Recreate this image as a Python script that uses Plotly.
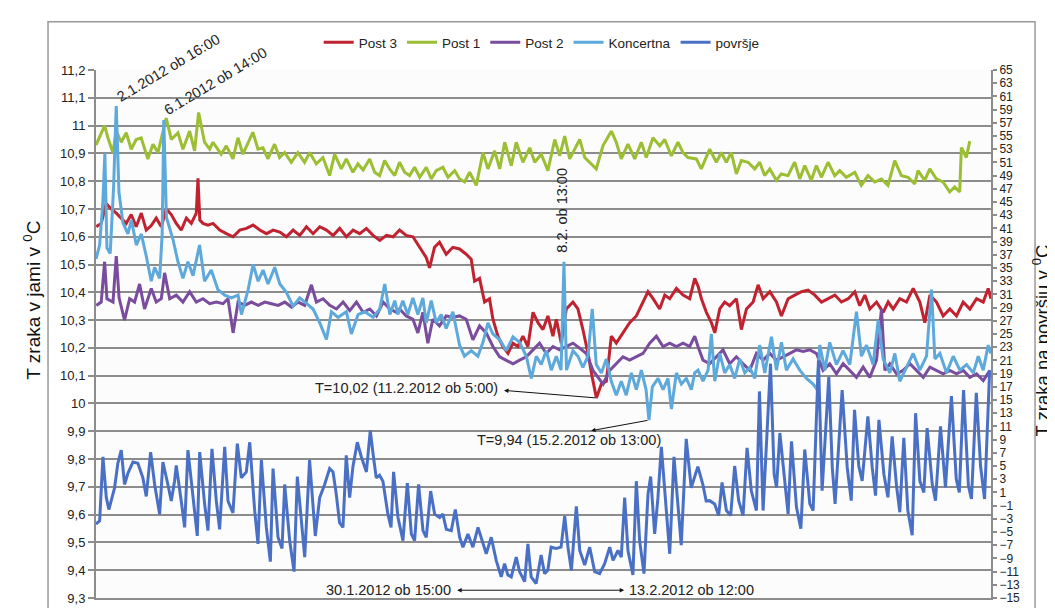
import pandas as pd
import plotly.graph_objects as go

START = pd.Timestamp("2012-01-01 00:00")

# ---------------- data (day offsets from 1.1.2012 00:00, temperatures) ----------------
post3_day = [0.02,0.43,0.84,1.25,1.67,2.08,2.49,2.9,3.31,3.73,4.14,4.55,4.96,5.38,5.79,6.2,6.61,7.02,7.44,7.85,
             8.26,8.4,8.55,8.81,9.22,9.64,10.19,10.74,11.29,11.84,12.39,12.94,13.49,14.04,14.59,15.14,15.68,16.23,
             16.78,17.33,17.88,18.43,18.98,19.53,20.07,20.62,21.17,21.72,22.27,22.82,23.37,23.92,24.47,25.0,25.55,
             26.1,26.65,27.2,27.47,27.88,28.29,28.84,29.39,29.94,30.49,30.9,31.18,31.59,32.0,32.41,32.69,33.1,33.51,
             33.93,34.34,34.75,35.16,35.57,35.99,36.4,36.81,37.22,37.63,37.91,38.32,38.73,39.28,39.69,40.1,40.52,
             40.87,41.21,41.62,42.03,42.44,42.85,43.4,43.95,44.5,45.05,45.46,45.88,46.42,46.84,47.25,47.8,48.35,
             48.9,49.31,49.6,49.86,50.27,50.68,50.96,51.37,51.78,52.19,52.74,53.15,53.57,54.12,54.53,54.94,55.49,
             56.04,56.45,57.0,57.55,58.1,58.65,59.2,59.75,60.3,60.85,61.39,61.95,62.49,62.9,63.32,63.73,64.28,
             64.83,65.24,65.65,66.2,66.75,67.3,67.85,68.26,68.68,69.22,69.77,70.32,70.87,71.42,71.97,72.52,73.07,
             73.48,73.7]
post3_t = [10.636,10.648,10.72,10.70,10.685,10.667,10.648,10.68,10.636,10.685,10.624,10.64,10.667,10.636,10.70,
           10.68,10.648,10.624,10.667,10.648,10.685,10.81,10.66,10.648,10.642,10.648,10.624,10.611,10.60,10.624,
           10.63,10.642,10.624,10.611,10.624,10.617,10.60,10.624,10.605,10.636,10.611,10.636,10.624,10.605,10.63,
           10.60,10.624,10.611,10.63,10.605,10.587,10.605,10.60,10.624,10.605,10.60,10.562,10.525,10.488,10.562,
           10.58,10.537,10.562,10.556,10.537,10.519,10.44,10.45,10.365,10.377,10.303,10.242,10.205,10.18,10.217,
           10.205,10.242,10.205,10.328,10.291,10.266,10.315,10.242,10.303,10.217,10.34,10.365,10.34,10.266,10.18,
           10.094,10.02,10.07,10.08,10.242,10.217,10.254,10.291,10.315,10.365,10.402,10.377,10.34,10.39,10.377,
           10.414,10.39,10.377,10.45,10.42,10.377,10.328,10.291,10.254,10.34,10.365,10.352,10.377,10.266,10.34,
           10.365,10.427,10.377,10.402,10.365,10.315,10.377,10.39,10.402,10.408,10.39,10.365,10.377,10.39,10.365,
           10.377,10.402,10.352,10.39,10.34,10.365,10.328,10.365,10.34,10.377,10.365,10.414,10.365,10.291,10.39,
           10.365,10.315,10.34,10.315,10.365,10.34,10.377,10.365,10.414,10.377]

post1_day = [0.0,0.71,0.98,1.39,1.67,2.08,2.49,2.9,3.31,3.72,4.27,4.69,5.1,5.78,6.2,6.75,7.16,7.71,8.12,8.45,8.94,
             9.36,9.63,10.31,10.73,11.28,11.69,12.1,12.92,13.34,13.75,14.16,14.71,15.12,15.54,16.08,16.63,17.18,
             17.6,18.14,18.69,19.24,19.65,20.2,20.61,21.16,21.57,22.0,22.54,22.95,23.36,23.77,24.18,24.6,25.0,
             25.42,25.83,26.24,26.66,27.2,27.61,28.02,28.57,28.99,29.54,29.95,30.36,30.77,31.32,31.87,32.28,32.83,
             33.25,33.66,34.2,34.61,35.16,35.72,36.13,36.67,37.22,37.78,38.19,38.6,39.01,39.84,40.25,41.2,41.75,
             42.44,42.85,43.26,43.81,44.37,44.91,45.32,45.87,46.43,46.84,47.38,47.93,48.34,48.76,49.44,49.85,
             50.54,51.09,51.5,51.91,52.32,52.74,53.15,53.7,54.25,54.66,55.07,55.49,56.03,56.44,56.99,57.54,57.96,
             58.37,58.91,59.33,59.74,60.29,60.84,61.25,61.8,62.49,63.03,63.58,64.14,64.68,65.23,65.78,66.33,
             66.88,67.43,67.7,68.25,68.67,69.21,69.76,70.31,70.72,71.13,71.27,71.68,71.96]
post1_t = [10.93,11.0,10.956,10.903,10.98,10.94,10.974,10.915,10.95,10.956,10.88,10.933,10.903,11.027,10.95,
           10.974,10.915,10.98,10.909,11.047,10.94,10.915,10.94,10.897,10.927,10.88,10.956,10.897,10.976,10.915,
           10.92,10.88,10.933,10.885,10.903,10.868,10.903,10.868,10.903,10.862,10.885,10.82,10.897,10.844,10.88,
           10.832,10.862,10.84,10.88,10.832,10.82,10.874,10.844,10.82,10.868,10.832,10.82,10.85,10.814,10.85,
           10.808,10.838,10.85,10.814,10.838,10.808,10.797,10.832,10.785,10.903,10.844,10.909,10.844,10.94,
           10.856,10.94,10.868,10.92,10.868,10.897,10.838,10.95,10.891,10.962,10.88,10.95,10.885,10.844,10.927,
           10.98,10.94,10.88,10.933,10.88,10.94,10.885,10.956,10.927,10.95,10.891,10.94,10.903,10.885,10.88,
           10.844,10.915,10.868,10.903,10.868,10.903,10.826,10.874,10.868,10.844,10.868,10.82,10.844,10.803,
           10.826,10.82,10.868,10.808,10.856,10.803,10.856,10.814,10.868,10.82,10.838,10.814,10.832,10.785,
           10.82,10.797,10.808,10.785,10.874,10.82,10.814,10.79,10.838,10.803,10.844,10.808,10.797,10.761,
           10.779,10.761,10.921,10.885,10.944]

post2_day = [0.02,0.43,0.71,0.9,1.4,1.67,1.9,2.35,2.77,3.18,3.59,4.0,4.55,4.96,5.38,5.65,6.07,6.61,7.16,7.71,
             8.26,8.81,9.36,9.91,10.46,10.87,11.29,11.7,12.25,12.8,13.35,13.9,14.45,15.0,15.55,16.1,16.64,17.19,
             17.74,18.15,18.7,19.25,19.8,20.35,20.9,21.45,22.0,22.55,23.1,23.65,24.2,24.75,25.0,25.55,26.1,26.51,
             26.92,27.33,27.74,28.29,28.84,29.39,29.94,30.49,31.04,31.59,32.14,32.69,33.24,33.79,34.34,34.89,
             35.44,35.99,36.53,37.08,37.63,38.18,38.73,39.28,39.83,40.38,40.93,41.35,41.76,42.31,42.85,43.4,43.95,
             44.5,45.05,45.6,46.15,46.7,47.25,47.8,48.35,48.9,49.31,49.58,49.99,50.54,51.09,51.64,52.19,52.74,
             53.29,53.84,54.39,54.94,55.49,56.04,56.59,57.14,57.69,58.24,58.79,59.34,59.88,60.43,60.98,61.53,
             62.08,62.63,63.18,63.73,64.28,64.69,64.97,65.38,65.93,66.48,67.03,67.58,68.13,68.68,69.22,69.77,
             70.32,70.87,71.42,71.97,72.52,73.07,73.62]
post2_t = [10.353,10.365,10.51,10.377,10.365,10.53,10.38,10.30,10.377,10.365,10.43,10.34,10.414,10.365,10.377,
           10.47,10.377,10.39,10.365,10.402,10.365,10.377,10.359,10.365,10.359,10.377,10.254,10.365,10.353,
           10.365,10.353,10.365,10.359,10.353,10.365,10.347,10.365,10.353,10.427,10.365,10.377,10.353,10.34,
           10.365,10.334,10.365,10.328,10.34,10.315,10.365,10.34,10.328,10.34,10.315,10.303,10.254,10.328,10.217,
           10.303,10.279,10.315,10.31,10.315,10.303,10.229,10.279,10.254,10.205,10.168,10.156,10.143,10.156,
           10.168,10.193,10.217,10.18,10.205,10.193,10.205,10.217,10.199,10.18,10.119,10.094,10.07,10.119,10.143,
           10.168,10.156,10.168,10.18,10.217,10.242,10.205,10.217,10.205,10.217,10.205,10.242,10.205,10.156,
           10.143,10.168,10.193,10.143,10.168,10.143,10.119,10.18,10.156,10.18,10.156,10.168,10.18,10.193,
           10.187,10.193,10.18,10.119,10.143,10.107,10.143,10.119,10.094,10.131,10.094,10.156,10.34,10.119,
           10.143,10.107,10.119,10.143,10.119,10.094,10.131,10.119,10.107,10.119,10.107,10.119,10.094,10.107,
           10.082,10.119]

konc_day = [0.0,0.3,0.57,0.73,0.9,1.17,1.45,1.667,1.89,2.22,2.63,2.91,3.32,3.73,4.14,4.55,4.83,5.24,5.45,5.583,
            5.8,6.34,6.75,7.16,7.57,7.99,8.53,8.94,9.49,10.04,10.6,11.15,11.7,11.98,12.53,12.94,13.35,13.76,14.17,
            14.72,15.14,15.68,16.23,16.78,17.33,17.88,18.43,18.98,19.39,19.94,20.62,21.03,21.58,22.13,22.82,23.37,
            23.78,24.2,24.61,24.86,25.27,25.68,26.1,26.51,26.92,27.2,27.61,28.02,28.43,28.84,29.39,29.94,30.35,
            30.9,31.45,31.87,32.28,32.69,33.24,33.79,34.34,34.89,35.44,35.85,36.26,36.67,37.08,37.5,37.91,38.3,
            38.54,38.75,39.28,39.69,40.1,40.52,40.87,41.2,41.62,42.03,42.44,42.85,43.26,43.67,44.09,44.5,44.91,
            45.3,45.54,45.82,46.29,46.7,47.11,47.39,47.8,48.21,48.62,49.03,49.31,49.58,49.99,50.41,50.68,50.96,
            51.37,51.78,52.19,52.6,53.02,53.43,53.84,54.25,54.66,55.08,55.63,56.04,56.45,56.86,57.41,57.96,58.51,
            59.06,59.39,59.61,60.02,60.43,60.98,61.53,62.08,62.63,63.04,63.46,64.0,64.42,64.83,65.38,65.79,66.2,
            66.75,67.3,67.85,68.4,68.81,69.09,69.5,70.05,70.6,71.15,71.7,72.25,72.66,73.07,73.48,73.7]
konc_t = [10.52,10.57,10.73,10.90,10.56,10.54,10.78,11.07,10.76,10.65,10.61,10.66,10.57,10.61,10.53,10.44,10.49,
          10.45,10.61,11.02,10.67,10.59,10.51,10.45,10.51,10.46,10.57,10.44,10.48,10.41,10.39,10.38,10.39,10.32,
          10.41,10.50,10.44,10.48,10.43,10.49,10.43,10.40,10.35,10.38,10.36,10.34,10.29,10.23,10.33,10.31,10.33,
          10.25,10.32,10.33,10.31,10.34,10.43,10.32,10.37,10.32,10.37,10.32,10.38,10.32,10.38,10.29,10.37,10.29,
          10.32,10.27,10.33,10.21,10.17,10.19,10.17,10.22,10.29,10.25,10.23,10.19,10.24,10.22,10.17,10.09,10.17,
          10.14,10.19,10.12,10.17,10.12,10.51,10.12,10.19,10.17,10.13,10.17,10.34,10.14,10.11,10.16,10.08,10.03,
          10.08,10.03,10.11,10.05,10.12,10.05,9.94,10.06,10.09,10.05,10.09,9.98,10.11,10.07,10.09,10.05,10.11,
          10.12,10.08,10.12,10.25,10.08,10.18,10.11,10.14,10.09,10.16,10.11,10.13,10.09,10.21,10.11,10.24,10.12,
          10.22,10.12,10.16,10.12,10.09,10.07,10.05,10.21,10.12,10.22,10.14,10.19,10.14,10.33,10.17,10.21,10.14,
          10.30,10.16,10.11,10.18,10.08,10.13,10.18,10.12,10.17,10.41,10.16,10.18,10.11,10.17,10.12,10.14,10.11,
          10.17,10.12,10.21,10.18]

povrsje_day = [0.0,0.3,0.57,0.85,1.06,1.53,1.8,2.08,2.35,2.63,3.04,3.45,3.86,4.14,4.5,4.83,5.24,5.51,5.92,6.2,
               6.47,6.61,7.02,7.3,7.57,7.99,8.34,8.54,8.95,9.22,9.55,9.91,10.18,10.6,10.87,11.28,11.64,11.97,12.38,
               12.66,13.07,13.34,13.62,14.03,14.36,14.58,14.99,15.32,15.54,15.95,16.31,16.58,16.91,17.19,17.59,
               17.87,18.06,18.42,18.83,19.24,19.52,19.79,20.06,20.34,20.61,20.89,21.16,21.52,21.85,22.27,22.59,
               22.8,23.08,23.35,23.63,24.04,24.3,24.51,24.87,25.28,25.64,25.97,26.24,26.57,26.93,27.2,27.56,27.89,
               28.3,28.57,28.85,29.26,29.59,29.95,30.22,30.63,31.04,31.46,31.73,32.14,32.55,32.96,33.37,33.65,
               33.92,34.2,34.61,34.88,35.3,35.57,35.84,36.25,36.66,36.94,37.21,37.48,37.89,38.3,38.6,38.87,39.15,
               39.56,39.84,40.25,40.66,41.07,41.48,41.89,42.31,42.58,42.99,43.26,43.54,43.81,44.22,44.5,44.77,
               45.13,45.46,45.68,46.01,46.28,46.56,46.97,47.25,47.6,47.93,48.2,48.61,49.02,49.57,49.98,50.25,
               50.54,50.95,51.28,51.56,51.92,52.27,52.6,52.93,53.29,53.62,53.97,54.39,54.64,54.94,55.55,55.85,
               56.05,56.32,56.73,57.0,57.28,57.69,58.05,58.37,58.79,59.06,59.5,59.8,60.35,60.64,60.87,61.45,61.87,
               62.2,62.47,62.82,63.1,63.57,63.93,64.2,64.48,64.89,65.22,65.57,65.93,66.2,66.53,66.86,67.22,67.5,
               67.85,68.18,68.45,68.87,69.14,69.55,69.96,70.45,70.85,71.1,71.45,71.85,72.1,72.5,72.85,73.18,73.6]
povrsje_t = [-3.8,-3.3,6.4,0.2,-1.6,1.7,5.4,7.4,2.2,3.9,5.6,5.4,3.2,0.4,7.1,2.2,-2.3,5.6,2.2,-0.3,2.7,5.1,-0.3,
             -4.3,7.4,-0.3,-5.6,7.1,-0.8,-4.8,7.6,-0.3,-4.6,7.9,-0.3,-2.1,8.4,3.2,4.1,8.6,-1.8,-6.8,5.9,-4.3,-9.5,
             4.6,-5.8,-7.5,2.2,-6.3,-11.0,3.4,-3.3,-8.8,5.9,-1.3,-5.6,0.2,2.2,4.6,4.1,0.7,-3.6,-4.3,6.6,0.2,4.9,
             8.6,6.4,4.1,10.4,7.1,3.2,3.6,2.7,-2.3,-4.3,4.1,-2.8,-6.3,2.4,-5.3,-6.3,2.2,-4.8,-5.8,1.2,-2.3,-2.8,
             -2.3,-4.6,-4.8,-1.6,-5.8,-7.3,-5.3,-7.3,-4.3,-6.0,-8.3,-5.8,-9.3,-11.8,-9.8,-11.5,-11.8,-8.8,-11.0,
             -12.5,-6.8,-11.8,-12.8,-8.5,-11.3,-10.8,-7.3,-7.5,-7.3,-2.6,-7.3,-10.8,-1.1,-7.8,-10.0,-7.3,-11.0,
             -11.3,-9.8,-7.3,-9.3,-7.8,-8.8,0.2,-7.8,-11.5,2.7,-6.3,-11.3,0.7,3.4,-5.3,0.2,7.9,-1.8,-8.3,6.4,-0.3,
             -7.0,9.1,1.7,4.9,2.2,-0.3,-0.25,-0.75,-2.5,2.5,-1.75,-2.5,5.0,-0.25,-2.5,7.75,1.25,-1.75,16.3,-1.75,
             20.5,3.75,1.75,10.0,2.25,-2.25,8.75,-1.25,-4.5,7.5,-0.75,-1.75,21.0,1.25,18.5,4.75,-0.75,16.5,4.75,
             -0.25,13.5,5.0,2.75,12.5,4.75,0.5,12.0,3.75,0.25,9.5,2.0,-2.0,9.25,-1.75,-5.5,13.0,2.75,1.0,10.75,
             2.25,-0.25,11.0,1.75,15.6,3.0,1.0,16.5,2.0,0.0,16.1,5.0,0.0,19.5]

series_names = ["Post 3", "Post 1", "Post 2", "Koncertna", "površje"]
left_ticks = [9.3, 11.2]
right_ticks = [-15, 65]
end_day = 73.71


def ts(days):
    return [START + pd.Timedelta(days=float(d)) for d in days]


def day(d):
    return START + pd.Timedelta(days=float(d))


colors = {"Post 3": "#C0232F", "Post 1": "#9BBE33", "Post 2": "#7A4C9E",
          "Koncertna": "#5DA9DC", "površje": "#4A70C6"}

fig = go.Figure()
data = [("Post 3", post3_day, post3_t, "y"),
        ("Post 1", post1_day, post1_t, "y"),
        ("Post 2", post2_day, post2_t, "y"),
        ("Koncertna", konc_day, konc_t, "y"),
        ("površje", povrsje_day, povrsje_t, "y2")]
for name, dd, vv, ax in data:
    fig.add_trace(go.Scatter(x=ts(dd), y=vv, name=name, mode="lines", yaxis=ax,
                             line=dict(color=colors[name], width=3)))

font = "Liberation Sans, Arial, sans-serif"
grid = "#8C8C8C"

fig.update_layout(
    width=1055, height=608,
    margin=dict(l=88, r=72, t=62, b=10),
    paper_bgcolor="white", plot_bgcolor="#FCFCFC",
    separators=", ",
    font=dict(family=font, color="#222"),
    showlegend=True,
    legend=dict(orientation="h", x=0.498, xanchor="center", y=1.052, yanchor="middle",
                font=dict(size=13.5, family=font, color="#222"), bgcolor="rgba(0,0,0,0)",
                itemwidth=30, tracegroupgap=0),
    xaxis=dict(type="date", range=[day(0), day(end_day)], showticklabels=False, showgrid=False,
               zeroline=False, showline=True, linecolor=grid, linewidth=2, ticks=""),
    yaxis=dict(range=left_ticks, tick0=9.3, dtick=0.1, showgrid=True, gridcolor=grid, gridwidth=2,
               zeroline=False, showline=True, linecolor=grid, linewidth=2, ticks="outside",
               ticklen=6, tickcolor=grid, tickwidth=1.5, tickfont=dict(size=13, family=font, color="#222")),
    yaxis2=dict(range=right_ticks, tick0=-15, dtick=2, overlaying="y", side="right", showgrid=False,
                zeroline=False, showline=True, linecolor=grid, linewidth=2, ticks="outside",
                ticklen=4, tickcolor=grid, tickwidth=1.5, tickfont=dict(size=12, family=font, color="#222")),
)

# outer chart frame
fig.add_shape(type="rect", xref="paper", yref="paper", x0=-0.0536, x1=1.0492, y0=-0.2, y1=1.0914,
              line=dict(color="#9A9A9A", width=1.5), fillcolor="rgba(0,0,0,0)", layer="below")

ann_font = dict(family=font, size=14.5, color="#222")

# axis titles
fig.add_annotation(xref="paper", yref="paper", x=-0.0715, y=0.563, text="T zraka v jami v <sup>0</sup>C",
                   textangle=-90, showarrow=False, font=dict(family=font, size=19, color="#111"),
                   xanchor="center", yanchor="middle")
fig.add_annotation(xref="paper", yref="paper", x=1.0555, y=0.487, text="T zraka na površju v <sup>0</sup>C",
                   textangle=-90, showarrow=False, font=dict(family=font, size=18.5, color="#111"),
                   xanchor="center", yanchor="middle")

# spike labels tied to Koncertna peaks
i1 = konc_day.index(1.667)
i2 = konc_day.index(5.583)
i3 = konc_day.index(38.54)
fig.add_annotation(x=day(konc_day[i1]), y=konc_t[i1], text="2.1.2012 ob 16:00", textangle=-31,
                   showarrow=False, xshift=52, yshift=38, font=ann_font)
fig.add_annotation(x=day(konc_day[i2]), y=konc_t[i2], text="6.1.2012 ob 14:00", textangle=-31,
                   showarrow=False, xshift=52, yshift=39, font=ann_font)
fig.add_annotation(x=day(konc_day[i3]), y=konc_t[i3], text="8.2. ob 13:00", textangle=-90,
                   showarrow=False, xshift=-2, yshift=52, font=ann_font)

# minimum of Post 3
im = post3_t.index(min(post3_t))
fig.add_annotation(x=day(33.6), y=10.047, ax=day(post3_day[im]), ay=post3_t[im], axref="x", ayref="y",
                   text="", showarrow=True, arrowhead=2, arrowsize=0.9, arrowwidth=1, arrowcolor="#111")
fig.add_annotation(x=day(33.3), y=10.055, text="T=10,02 (11.2.2012 ob 5:00)", showarrow=False,
                   xanchor="right", yanchor="middle", font=ann_font)

# minimum of Koncertna
ik = konc_t.index(min(konc_t))
fig.add_annotation(x=day(40.77), y=9.902, ax=day(konc_day[ik]), ay=konc_t[ik], axref="x", ayref="y",
                   text="", showarrow=True, arrowhead=2, arrowsize=0.9, arrowwidth=1, arrowcolor="#111")
fig.add_annotation(x=day(31.2), y=9.868, text="T=9,94 (15.2.2012 ob 13:00)", showarrow=False,
                   xanchor="left", yanchor="middle", font=ann_font)

# cold period double arrow (30.1.2012 15:00 -> 13.2.2012 12:00)
d_a = 29 + 15 / 24
d_b = 43 + 12 / 24
fig.add_annotation(x=day(d_b), y=9.328, ax=day(d_a), ay=9.328, axref="x", ayref="y", text="",
                   showarrow=True, arrowhead=2, arrowside="end+start", arrowsize=0.9, arrowwidth=1,
                   arrowcolor="#111")
fig.add_annotation(x=day(d_a), y=9.328, text="30.1.2012 ob 15:00", showarrow=False, xanchor="right",
                   yanchor="middle", xshift=-3, font=ann_font)
fig.add_annotation(x=day(d_b), y=9.328, text="13.2.2012 ob 12:00", showarrow=False, xanchor="left",
                   yanchor="middle", xshift=3, font=ann_font)

fig.write_html("out.html")
